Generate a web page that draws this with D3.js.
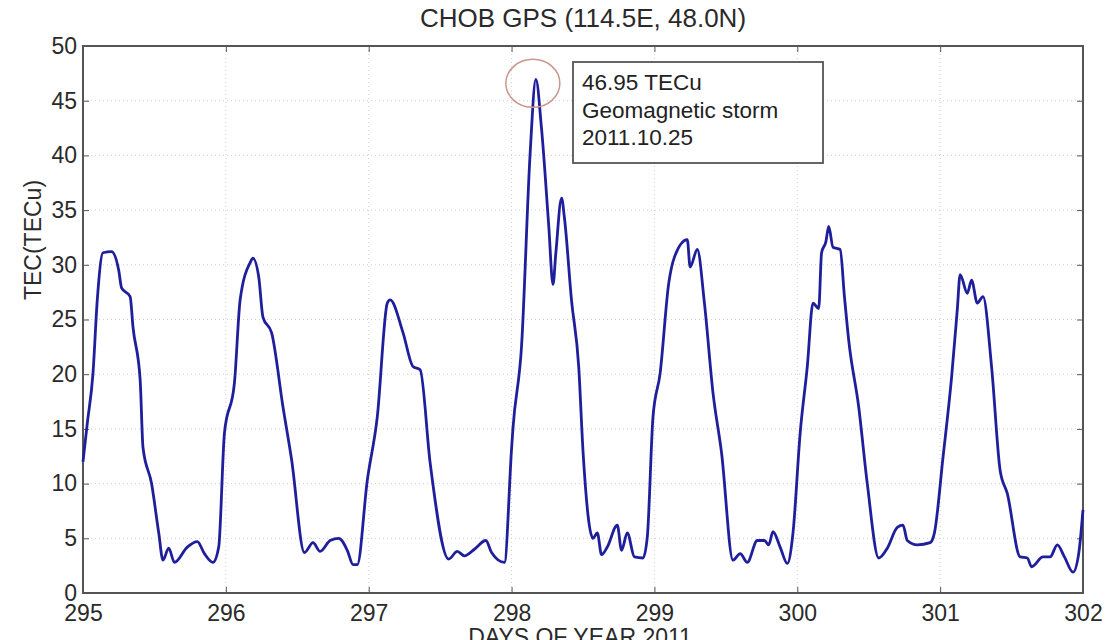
<html>
<head>
<script src="https://d3js.org/d3.v7.min.js"></script>
<style>
body {margin: 0; background: white; font-family: Arial, "Liberation Sans", sans-serif;}
.grid line {stroke: #cfcfcf; stroke-width: 1; stroke-dasharray: 1,3;}
.axis text {font-size: 23px; fill: #2a2a2a;}
.axis path, .axis line {stroke: #555;}
</style>
</head>
<body>
<svg width="1110" height="640"></svg>
<script>

// day of year 2011 and TEC values
var days = [295.00,295.03,295.07,295.10,295.14,295.20,295.25,295.27,295.33,295.35,295.40,295.42,295.48,295.53,295.56,295.60,295.64,295.73,295.80,295.85,295.91,295.95,295.99,
  296.06,296.10,296.17,296.19,296.23,296.26,296.32,296.40,296.46,296.55,296.61,296.66,296.73,296.79,296.85,296.89,296.92,296.99,
  297.06,297.13,297.15,297.24,297.31,297.36,297.43,297.56,297.62,297.67,297.74,297.82,297.86,297.95,
  298.00,298.01,298.07,298.13,298.17,298.21,298.26,298.29,298.31,298.35,298.37,298.42,298.47,298.50,298.57,298.60,298.63,298.67,298.74,298.77,298.81,298.86,298.92,298.95,298.99,
  299.04,299.10,299.14,299.23,299.25,299.30,299.35,299.41,299.47,299.55,299.60,299.65,299.72,299.77,299.80,299.83,299.88,299.93,299.97,
  300.02,300.07,300.11,300.15,300.17,300.20,300.22,300.25,300.30,300.33,300.36,300.43,300.49,300.57,300.63,300.70,300.74,300.77,300.84,300.93,300.96,
  301.02,301.08,301.12,301.14,301.19,301.22,301.26,301.30,301.36,301.42,301.47,301.56,301.61,301.64,301.72,301.77,301.82,301.87,301.93,301.97,302.00];
var tec = [12.0,15.5,20.1,26.8,31.1,31.2,29.5,27.9,27.1,24.3,19.5,13.3,10.0,5.5,3.0,4.1,2.8,4.2,4.7,3.6,2.8,4.2,14.6,
  19.2,26.8,30.2,30.6,28.9,25.2,23.8,17.0,12.2,3.7,4.6,3.8,4.8,5.0,3.9,2.6,2.6,10.3,
  16.1,26.5,26.8,23.8,20.7,20.4,11.9,3.1,3.8,3.4,4.0,4.8,3.7,2.8,
  13.2,15.1,22.6,40.2,46.95,42.4,33.6,28.2,31.1,36.1,34.3,26.7,20.7,13.0,5.0,5.5,3.5,4.2,6.2,3.9,5.5,3.3,3.2,5.1,16.1,
  20.1,28.3,30.7,32.3,29.8,31.4,26.5,18.3,12.8,3.0,3.6,2.8,4.8,4.8,4.4,5.6,4.2,2.7,5.5,
  14.6,20.7,26.5,26.0,31.1,32.1,33.5,31.6,31.4,27.1,23.1,17.0,10.0,3.2,4.1,6.0,6.2,4.8,4.4,4.6,5.5,
  12.4,19.7,25.9,29.1,27.4,28.6,26.5,27.1,20.7,11.2,9.1,3.3,3.2,2.4,3.3,3.3,4.4,3.3,1.9,3.6,7.6];

var xTicks = [295,296,297,298,299,300,301,302];
var yTicks = [0,5,10,15,20,25,30,35,40,45,50];
var noteLines = ["46.95 TECu", "Geomagnetic storm", "2011.10.25"];
var peakDay = 298.17, peakTec = 46.95;

var svg = d3.select("svg");
var padL = 83, padR = 1083, padT = 46, padB = 593;
var w = padR - padL, h = padB - padT;

var x = d3.scaleLinear().domain([295, 302]).range([0, w]);
var y = d3.scaleLinear().domain([0, 50]).range([h, 0]);

var g = svg.append("g").attr("transform", "translate(" + padL + "," + padT + ")");

// dotted grid
g.append("g").attr("class", "grid")
  .selectAll("line").data(yTicks.slice(1, -1)).enter().append("line")
  .attr("x1", 0).attr("x2", w)
  .attr("y1", function(d) { return y(d); }).attr("y2", function(d) { return y(d); });
g.append("g").attr("class", "grid")
  .selectAll("line").data(xTicks.slice(1, -1)).enter().append("line")
  .attr("y1", 0).attr("y2", h)
  .attr("x1", function(d) { return x(d); }).attr("x2", function(d) { return x(d); });

// axes, ticks inward like matlab
g.append("g").attr("class", "axis")
  .call(d3.axisLeft(y).tickValues(yTicks).tickSizeInner(-6).tickSizeOuter(0).tickPadding(6));
g.append("g").attr("class", "axis")
  .attr("transform", "translate(0," + h + ")")
  .call(d3.axisBottom(x).tickValues(xTicks).tickFormat(d3.format("d")).tickSizeInner(-6).tickSizeOuter(0).tickPadding(12));
g.append("g").attr("class", "axis")
  .attr("transform", "translate(" + w + ",0)")
  .call(d3.axisRight(y).tickValues(yTicks).tickSizeInner(-6).tickSizeOuter(0).tickFormat(""));
g.append("g").attr("class", "axis")
  .call(d3.axisTop(x).tickValues(xTicks).tickSizeInner(-6).tickSizeOuter(0).tickFormat(""));

g.append("rect")
  .attr("width", w).attr("height", h)
  .attr("fill", "none").attr("stroke", "#555").attr("stroke-width", 2);

// TEC line
var line = d3.line()
  .x(function(d, i) { return x(days[i]); })
  .y(function(d) { return y(d); })
  .curve(d3.curveMonotoneX);
g.append("path")
  .datum(tec)
  .attr("d", line)
  .attr("fill", "none")
  .attr("stroke", "#1f1f9c")
  .attr("stroke-width", 2.8)
  .attr("stroke-linejoin", "round");

// peak marker and note
g.append("ellipse")
  .attr("cx", x(peakDay) - 3).attr("cy", y(peakTec) + 4)
  .attr("rx", 27).attr("ry", 24)
  .attr("fill", "none").attr("stroke", "#c9968c").attr("stroke-width", 1.5);

g.append("rect")
  .attr("x", 573 - padL).attr("y", 62 - padT)
  .attr("width", 250).attr("height", 101)
  .attr("fill", "white").attr("stroke", "#555").attr("stroke-width", 1.8);

g.selectAll(".note").data(noteLines).enter().append("text")
  .attr("class", "note")
  .attr("x", 582 - padL)
  .attr("y", function(d, i) { return 90 - padT + i * 27.5; })
  .attr("font-size", "22.5px").attr("fill", "#222")
  .text(function(d) { return d; });

// titles
svg.append("text")
  .attr("x", padL + w / 2).attr("y", 27)
  .attr("text-anchor", "middle")
  .attr("font-size", "26px").attr("fill", "#2a2a2a")
  .text("CHOB GPS (114.5E, 48.0N)");

svg.append("text")
  .attr("transform", "translate(41,240) rotate(-90)")
  .attr("text-anchor", "middle")
  .attr("font-size", "23px").attr("fill", "#2a2a2a")
  .text("TEC(TECu)");

svg.append("text")
  .attr("x", 580).attr("y", 645)
  .attr("text-anchor", "middle")
  .attr("font-size", "23px").attr("fill", "#2a2a2a")
  .text("DAYS OF YEAR 2011");

</script>
</body>
</html>
